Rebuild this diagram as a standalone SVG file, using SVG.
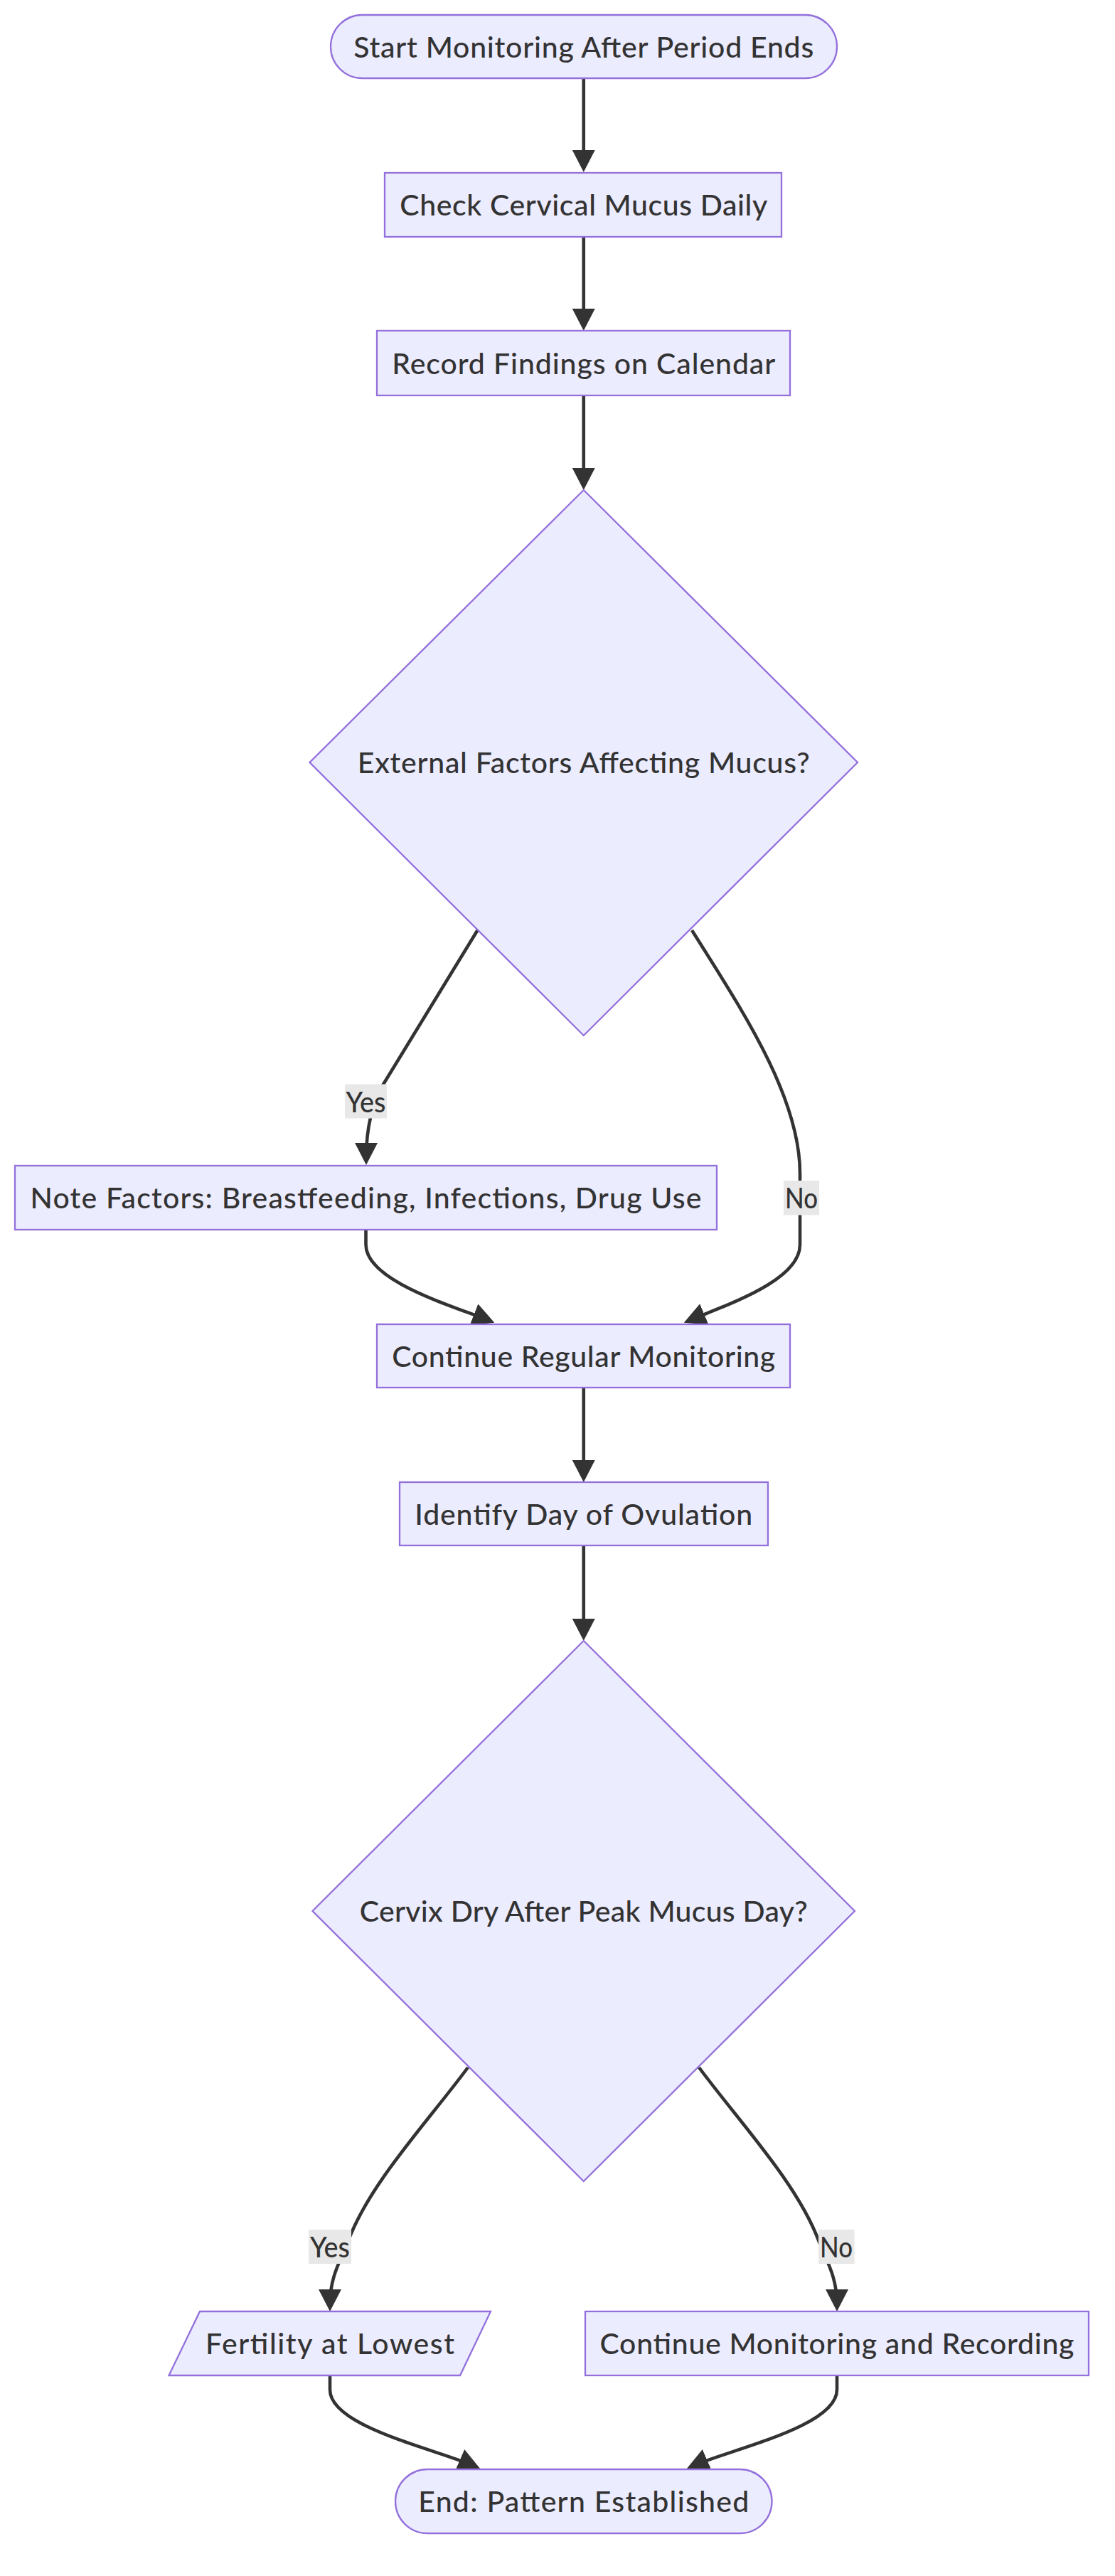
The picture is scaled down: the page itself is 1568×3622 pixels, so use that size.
<svg xmlns="http://www.w3.org/2000/svg" width="1568" height="3622" viewBox="0 0 1568 3622">
<defs>
<style>
.node rect, .node polygon {fill:#ECECFF; stroke:#9370DB; stroke-width:2.3;}
text {font-family:Lato, "Open Sans", "DejaVu Sans", sans-serif; font-size:41px; font-weight:500; fill:#333333; text-anchor:middle;}
.edge {fill:none; stroke:#333333; stroke-width:4.6; marker-end:url(#arrow);}
.elabel rect {fill:#e8e8e8;}
</style>
<marker id="arrow" markerUnits="userSpaceOnUse" viewBox="0 0 31 32" markerWidth="31" markerHeight="32" refX="21" refY="16" orient="auto">
<path d="M0,0 L31,16 L0,32 z" fill="#333333"/>
</marker>
</defs>
<rect width="1568" height="3622" fill="#ffffff"/>
<g id="edges">
<path class="edge" d="M820.75,110 L820.75,232"/>
<path class="edge" d="M820.75,333 L820.75,455"/>
<path class="edge" d="M820.75,556 L820.75,679"/>
<path class="edge" d="M671.5,1308 L540,1523 C527,1545 515,1580 515,1628"/>
<path class="edge" d="M973,1308 C1040,1415 1125,1540 1125,1650 L1125,1750 C1125,1800 1026,1833 971,1856"/>
<path class="edge" d="M514.5,1729 L514.5,1750 C514.5,1800 630,1834 686,1856"/>
<path class="edge" d="M820.75,1951 L820.75,2074"/>
<path class="edge" d="M820.75,2173 L820.75,2297"/>
<path class="edge" d="M658,2907 C600,2985 520,3070 490,3150 C479.5,3178 464,3200 464,3240"/>
<path class="edge" d="M983,2907 C1041,2985 1121,3070 1151,3150 C1161.5,3178 1177,3200 1177,3240"/>
<path class="edge" d="M464,3340 L464,3360 C464,3412 611,3443 666,3467"/>
<path class="edge" d="M1177,3340 L1177,3360 C1177,3412 1030,3443 975,3467"/>
</g>
<g id="edge-labels">
<g class="elabel"><rect x="485" y="1524.5" width="59" height="48"/><text x="514.5" y="1563.5" textLength="56" lengthAdjust="spacingAndGlyphs">Yes</text></g>
<g class="elabel"><rect x="1102" y="1660" width="50" height="48.5"/><text x="1127" y="1699" textLength="46" lengthAdjust="spacingAndGlyphs">No</text></g>
<g class="elabel"><rect x="434" y="3135" width="60" height="48"/><text x="464" y="3174" textLength="56" lengthAdjust="spacingAndGlyphs">Yes</text></g>
<g class="elabel"><rect x="1151" y="3135" width="50.5" height="48"/><text x="1176" y="3174" textLength="46" lengthAdjust="spacingAndGlyphs">No</text></g>
</g>
<g id="start" class="node"><rect x="465" y="21" width="712" height="89" rx="44.5" ry="44.5"/><text x="820.75" y="81" textLength="647">Start Monitoring After Period Ends</text></g>
<g id="check" class="node"><rect x="541" y="243" width="558" height="90"/><text x="820.75" y="303" textLength="517">Check Cervical Mucus Daily</text></g>
<g id="record" class="node"><rect x="530" y="465" width="581" height="91"/><text x="820.75" y="526" textLength="539">Record Findings on Calendar</text></g>
<g id="external" class="node"><polygon points="820.75,689 1206,1072 820.75,1456 435.5,1072"/><text x="820.75" y="1087" textLength="636">External Factors Affecting Mucus?</text></g>
<g id="note" class="node"><rect x="21" y="1639" width="987" height="90"/><text x="514.5" y="1699" textLength="944">Note Factors: Breastfeeding, Infections, Drug Use</text></g>
<g id="continueRegular" class="node"><rect x="530" y="1862" width="581" height="89"/><text x="820.75" y="1921.5" textLength="539">Continue Regular Monitoring</text></g>
<g id="identify" class="node"><rect x="562" y="2084" width="518" height="89"/><text x="820.75" y="2143.5" textLength="475">Identify Day of Ovulation</text></g>
<g id="cervixDry" class="node"><polygon points="820.75,2307 1202,2687 820.75,3067 439.5,2687"/><text x="820.75" y="2702" textLength="630">Cervix Dry After Peak Mucus Day?</text></g>
<g id="fertility" class="node"><polygon points="281,3250 690,3250 647,3340 237.5,3340"/><text x="464" y="3310" textLength="350">Fertility at Lowest</text></g>
<g id="continueMonitoring" class="node"><rect x="823" y="3250" width="708" height="90"/><text x="1177" y="3310" textLength="667">Continue Monitoring and Recording</text></g>
<g id="end" class="node"><rect x="556" y="3472" width="529.5" height="90" rx="45" ry="45"/><text x="820.75" y="3532" textLength="465">End: Pattern Established</text></g>
</svg>
